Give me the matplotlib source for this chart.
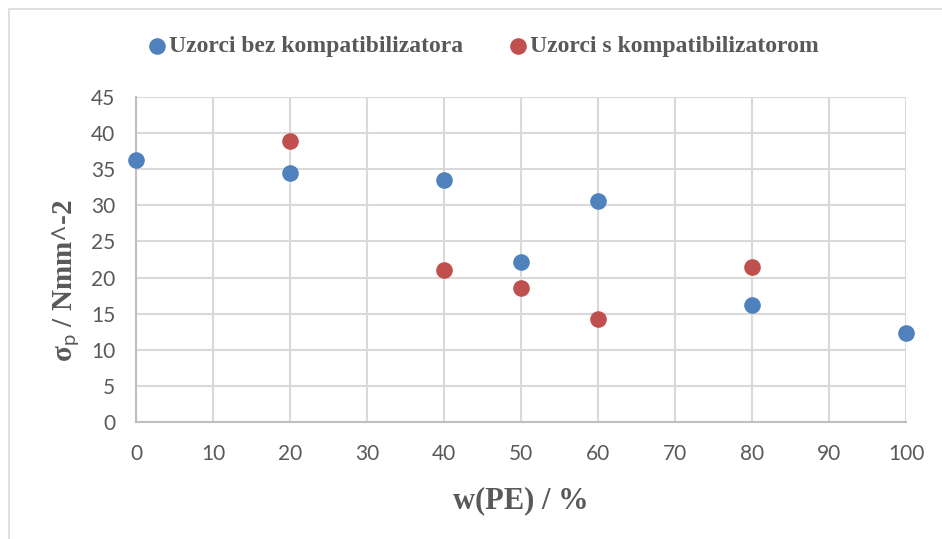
import numpy as np
import matplotlib
matplotlib.use("Agg")
import matplotlib.pyplot as plt
from matplotlib.patches import Rectangle

### data ###
w_bez = [0, 20, 40, 50, 60, 80, 100]
sig_bez = [36.3, 34.5, 33.5, 22.1, 30.6, 16.2, 12.3]
w_s = [20, 40, 50, 60, 80]
sig_s = [38.9, 21.0, 18.5, 14.3, 21.5]
labels = ["Uzorci bez kompatibilizatora", "Uzorci s kompatibilizatorom"]
xticks = list(range(0, 101, 10))
yticks = list(range(0, 46, 5))

### style ###
plt.rcParams['mathtext.fontset'] = 'custom'
plt.rcParams['mathtext.rm'] = 'Lato'
tick_font = ['Lato', 'DejaVu Sans']
serif = ['Liberation Serif', 'DejaVu Serif']
grey = '#595959'
grid_c = '#D9D9D9'

fig = plt.figure(figsize=(9.42, 5.39), dpi=100)
ax = fig.add_axes([136/942, 1-422/539, 770/942, 325/539])

# outer chart frame
fig.patches.append(Rectangle((9/942, -0.1), 1.2, 1 - 9/539 + 0.1,
                             transform=fig.transFigure, fill=False,
                             edgecolor=grid_c, linewidth=1.2))

ax.scatter(w_bez, sig_bez, s=120, color='#4F81BD', label=labels[0], zorder=3, clip_on=False)
ax.scatter(w_s, sig_s, s=120, color='#C0504D', label=labels[1], zorder=3, clip_on=False)

ax.set_xlim(0, 100)
ax.set_ylim(0, 45)
ax.set_xticks(xticks)
ax.set_yticks(yticks)
ax.grid(True, color=grid_c, linewidth=1.5)
ax.set_axisbelow(True)
for s in ['top', 'right']:
    ax.spines[s].set_visible(False)
for s in ['left', 'bottom']:
    ax.spines[s].set_color('#BFBFBF')
    ax.spines[s].set_linewidth(1.5)
ax.tick_params(length=0, colors=grey, labelsize=15)
ax.tick_params(axis='y', pad=15)
ax.tick_params(axis='x', pad=16)
for t in ax.get_xticklabels() + ax.get_yticklabels():
    t.set_family(tick_font)

ax.set_xlabel("w(PE) / %", family=serif, fontweight='bold', fontsize=22, color=grey)
ax.xaxis.set_label_coords(0.5, -0.243)
ax.xaxis.label.set_va('center')
ax.set_ylabel(r"σ$_\mathrm{p}$ / Nmm^-2", family=serif, fontweight='bold',
              fontsize=21, color=grey)
ax.yaxis.set_label_coords(-0.091, 0.434)
ax.yaxis.label.set_va('center')

leg = ax.legend(loc='center', bbox_to_anchor=(482/942, 1 - 46/539), bbox_transform=fig.transFigure,
                ncol=2, frameon=False, handletextpad=0.0, columnspacing=1.85,
                prop={'family': serif, 'weight': 'bold', 'size': 17}, handlelength=1.0)
for t in leg.get_texts():
    t.set_color(grey)

fig.savefig('out.png', dpi=100)
